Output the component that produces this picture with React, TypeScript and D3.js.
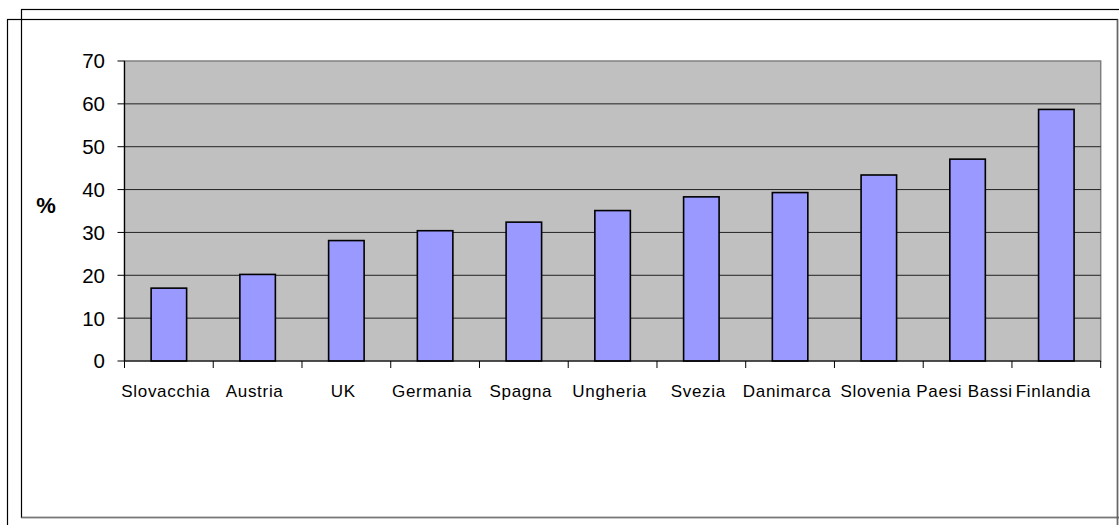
import React from "react";
import * as d3 from "d3";

const categories = [
  "Slovacchia",
  "Austria",
  "UK",
  "Germania",
  "Spagna",
  "Ungheria",
  "Svezia",
  "Danimarca",
  "Slovenia",
  "Paesi Bassi",
  "Finlandia",
];
const values = [17.0, 20.2, 28.1, 30.4, 32.4, 35.1, 38.3, 39.3, 43.4, 47.1, 58.7];
const yTicks = [0, 10, 20, 30, 40, 50, 60, 70];
const yLabel = "%";

const W = 1119;
const H = 525;
const plot = { left: 124.5, right: 1100.7, top: 61, bottom: 361 };

export default function App() {
  const x = d3
    .scaleBand<string>()
    .domain(categories)
    .range([plot.left, plot.right])
    .paddingInner(0)
    .paddingOuter(0);
  const y = d3.scaleLinear().domain([0, 70]).range([plot.bottom, plot.top]);
  const bw = x.bandwidth() / 2.5;
  const font = "Arial, 'Liberation Sans', Helvetica, sans-serif";
  const boundaries = d3.range(categories.length + 1).map((i) => plot.left + i * x.bandwidth());

  return (
    <svg
      width={W}
      height={H}
      style={{ position: "absolute", left: 0, top: 0, background: "#fff" }}
      fontFamily={font}
    >
      {/* outer frames */}
      <rect x={21.5} y={9.5} width={1140} height={508} fill="none" stroke="#000" strokeWidth={1.2} />
      <line x1={21.5} x2={1119} y1={517.5} y2={517.5} stroke="#777" strokeWidth={1.5} />
      <rect x={7.5} y={19.5} width={1110} height={540} fill="none" stroke="#000" strokeWidth={1.2} />
      <line x1={1117.5} x2={1117.5} y1={19.5} y2={525} stroke="#666" strokeWidth={1.5} />

      {/* plot area */}
      <rect
        x={plot.left}
        y={plot.top}
        width={plot.right - plot.left}
        height={plot.bottom - plot.top}
        fill="#C0C0C0"
        stroke="#808080"
        strokeWidth={1.5}
      />
      {yTicks
        .filter((t) => t > 0 && t < 70)
        .map((t) => (
          <line
            key={"g" + t}
            x1={plot.left}
            x2={plot.right}
            y1={y(t)}
            y2={y(t)}
            stroke="#222"
            strokeWidth={1}
          />
        ))}

      {/* bars */}
      {categories.map((c, i) => {
        const cx = (x(c) as number) + x.bandwidth() / 2;
        return (
          <rect
            key={c}
            x={cx - bw / 2}
            y={y(values[i])}
            width={bw}
            height={y(0) - y(values[i])}
            fill="#9999FF"
            stroke="#000"
            strokeWidth={1.6}
          />
        );
      })}

      {/* axes */}
      <line x1={plot.left} x2={plot.left} y1={plot.top} y2={plot.bottom} stroke="#000" strokeWidth={1.2} />
      <line x1={plot.left} x2={plot.right} y1={plot.bottom} y2={plot.bottom} stroke="#000" strokeWidth={1.2} />
      {yTicks.map((t) => (
        <g key={"y" + t}>
          <line x1={plot.left - 7} x2={plot.left} y1={y(t)} y2={y(t)} stroke="#000" strokeWidth={1} />
          <text x={105} y={y(t)} dy="0.36em" textAnchor="end" fontSize={20.5} fill="#000">
            {t}
          </text>
        </g>
      ))}
      {boundaries.map((bx, i) => (
        <line key={"xt" + i} x1={bx} x2={bx} y1={plot.bottom} y2={plot.bottom + 7} stroke="#000" strokeWidth={1} />
      ))}
      {categories.map((c) => (
        <text
          key={"l" + c}
          x={(x(c) as number) + x.bandwidth() / 2 - 3}
          y={396.5}
          textAnchor="middle"
          fontSize={17}
          letterSpacing={0.7}
          fill="#000"
        >
          {c}
        </text>
      ))}

      {/* y-axis title */}
      <text x={46} y={205} dy="0.36em" textAnchor="middle" fontSize={22} fontWeight="bold" fill="#000">
        {yLabel}
      </text>
    </svg>
  );
}
